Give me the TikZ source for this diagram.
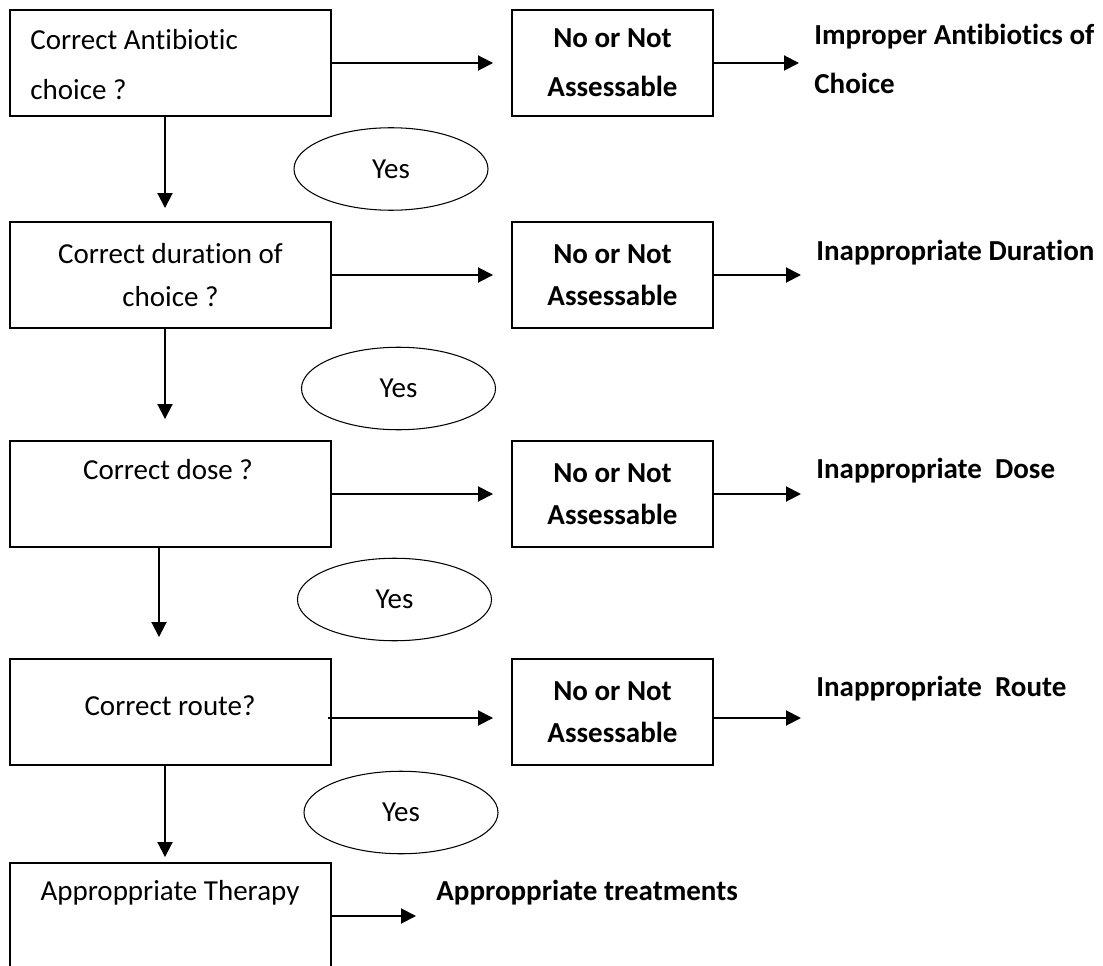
\documentclass[tikz,border=0pt]{standalone}
\usepackage{fontspec}
\setmainfont{Carlito}[Ligatures=NoCommon]
\usetikzlibrary{shapes.geometric,arrows.meta}

\begin{document}
\fontsize{16.5}{24}\selectfont
\begin{tikzpicture}[
  qbox/.style={draw,line width=1.1pt,minimum width=6.420cm,minimum height=2.120cm,inner sep=0pt},
  nobox/.style={draw,line width=1.1pt,minimum width=4.020cm,minimum height=2.120cm,inner sep=0pt,align=center,font=\bfseries},
  yesell/.style={draw,ellipse,line width=0.6pt,minimum width=3.880cm,minimum height=1.650cm,inner sep=0pt},
  qtxt/.style={inner sep=0pt,align=center},
  outtxt/.style={anchor=west,inner sep=0pt,align=left,font=\bfseries},
  flow/.style={line width=1.1pt,-{Triangle[length=0.30cm,width=0.30cm]}}
]
\useasboundingbox (0.000,0.000) rectangle (22.060,-19.320);
\clip (0.000,0.000) rectangle (22.060,-19.320);
\node[qbox] (q1) at (3.410,-1.260) {};
\node[qtxt,anchor=west,align=left] (q1t) at (0.600,-1.290) {Correct Antibiotic\\[4pt]choice ?};
\node[qbox,align=center] (q2) at (3.410,-5.500) {Correct duration of\\choice ?};
\node[qbox] (q3) at (3.410,-9.880) {};
\node[qtxt] (q3t) at (3.360,-9.400) {Correct dose ?};
\node[qbox] (q4) at (3.410,-14.240) {};
\node[qtxt] (q4t) at (3.400,-14.120) {Correct route?};
\node[qbox] (q5) at (3.410,-18.320) {};
\node[qtxt] (q5t) at (3.400,-17.860) {Approppriate Therapy};
\node[nobox] (n1) at (12.250,-1.260) {No or Not\\[4pt]Assessable};
\node[nobox] (n2) at (12.250,-5.500) {No or Not\\Assessable};
\node[nobox] (n3) at (12.250,-9.880) {No or Not\\Assessable};
\node[nobox] (n4) at (12.250,-14.240) {No or Not\\Assessable};
\node[outtxt] (o1) at (16.280,-1.180) {Improper Antibiotics of\\[4pt]Choice};
\node[outtxt] (o2) at (16.320,-5.060) {Inappropriate Duration};
\node[outtxt] (o3) at (16.320,-9.420) {Inappropriate~~Dose};
\node[outtxt] (o4) at (16.320,-13.780) {Inappropriate~~Route};
\node[outtxt] (o5) at (8.720,-17.860) {Approppriate treatments};
\node[yesell] (e1) at (7.820,-3.380) {Yes};
\node[yesell] (e2) at (7.970,-7.770) {Yes};
\node[yesell] (e3) at (7.890,-11.990) {Yes};
\node[yesell] (e4) at (8.020,-16.250) {Yes};
\draw[flow,shorten >=0.36cm] (q1.east) -- (n1.west);
\draw[flow,shorten >=0.36cm] (q2.east) -- (n2.west);
\draw[flow,shorten >=0.36cm] (q3.east) -- (n3.west);
\draw[flow,shorten >=0.36cm] ([xshift=-0.08cm,yshift=-0.12cm]q4.east) -- ([yshift=-0.12cm]n4.west);
\draw[flow,shorten >=0.30cm] (n1.east) -- (n1.east -| o1.west);
\draw[flow,shorten >=0.30cm] (n2.east) -- (n2.east -| o2.west);
\draw[flow,shorten >=0.30cm] (n3.east) -- (n3.east -| o3.west);
\draw[flow,shorten >=0.30cm] ([yshift=-0.12cm]n4.east) -- ([yshift=-0.12cm]n4.east -| o4.west);
\draw[flow,shorten >=0.40cm] (q5.east) -- (q5.east -| o5.west);
\draw[flow,shorten >=0.26cm] ([xshift=-0.110cm]q1.south) -- ([xshift=-0.110cm]q2.north);
\draw[flow,shorten >=0.42cm] ([xshift=-0.110cm]q2.south) -- ([xshift=-0.110cm]q3.north);
\draw[flow,shorten >=0.42cm] ([xshift=-0.230cm]q3.south) -- ([xshift=-0.230cm]q4.north);
\draw[flow,shorten >=0.10cm] ([xshift=-0.110cm]q4.south) -- ([xshift=-0.110cm]q5.north);
\end{tikzpicture}
\end{document}
